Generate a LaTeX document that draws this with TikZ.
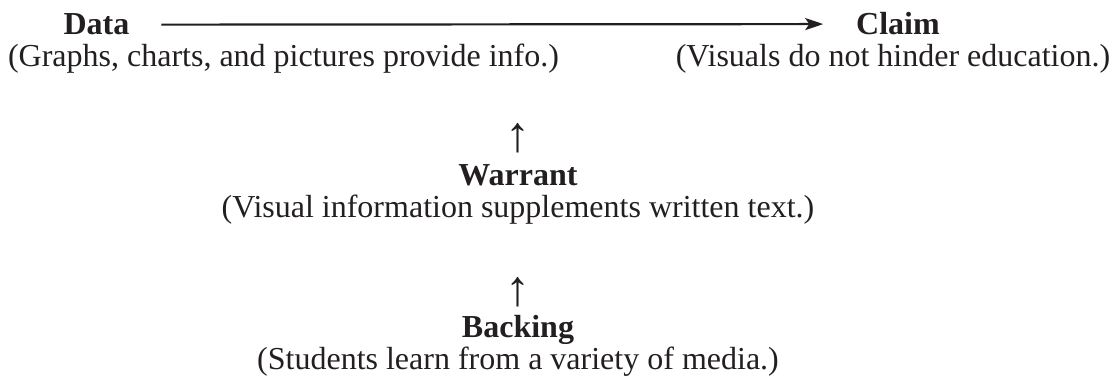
\documentclass[tikz,border=0pt]{standalone}
\usepackage{fontspec}
\setmainfont{Liberation Serif}
\usetikzlibrary{arrows.meta}
\definecolor{ink}{HTML}{231F20}
\begin{document}
\begin{tikzpicture}[x=1pt,y=1pt,
  every node/.style={inner sep=0pt,outer sep=0pt,text=ink,font=\fontsize{32}{34}\selectfont},
  head/.style={anchor=base,font=\fontsize{32}{34}\selectfont\bfseries},
  sub/.style={anchor=base},
  uparrow/.style={anchor=center,font=\fontsize{50}{50}\selectfont},
  link/.style={draw=ink,line width=2.2pt,-{Stealth[length=18pt,width=12pt,inset=4pt]}}]
\useasboundingbox (0,0) rectangle (1116,386);
\node[head] (data) at (96.5,351) {Data};
\node[sub] (datasub) at (283.5,319) {(Graphs, charts, and pictures provide info.)};
\node[head] (claim) at (898,351) {Claim};
\node[sub] (claimsub) at (893,319) {(Visuals do not hinder education.)};
\draw[link,shorten <=32pt,shorten >=33pt] (data.east) -- (claim.west);
\node[uparrow] (up1) at (518,247.5) {↑};
\node[head] (warrant) at (518,200) {Warrant};
\node[sub] (warrantsub) at (518,168) {(Visual information supplements written text.)};
\node[uparrow] (up2) at (518,94) {↑};
\node[head] (backing) at (518,49) {Backing};
\node[sub] (backingsub) at (518,17) {(Students learn from a variety of media.)};
\end{tikzpicture}
\end{document}
